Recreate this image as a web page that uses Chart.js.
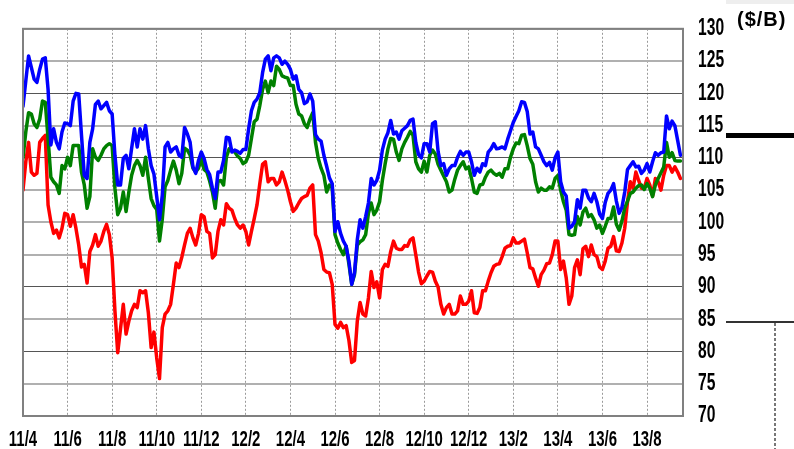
<!DOCTYPE html>
<html>
<head>
<meta charset="utf-8">
<script src="https://cdn.jsdelivr.net/npm/chart.js@4.4.1/dist/chart.umd.min.js"></script>
<style>
html,body{margin:0;padding:0;background:#fff;}
#wrap{width:794px;height:449px;}
</style>
</head>
<body>
<div id="wrap"><canvas id="c" width="794" height="449"></canvas></div>
<script>
// Month tick labels (every 2 months, starting 2011/4)
const monthLabels = ['11/4','11/6','11/8','11/10','11/12','12/2','12/4','12/6','12/8','12/10','12/12','13/2','13/4','13/6','13/8'];
// Sampling step of the series, in months from 2011/4
const stepMonths = 0.125;
const xMaxMonths = 29.615;
const unitLabel = '($/B)';

// Blue series ($/B)
const blueSeries = [
118,121.9,125.8,124,122.2,121.7,123.7,125.3,125.5,120.6,112,114.5,112.4,111.4,114,115.4,115.3,115,118.8,120,
119.9,113.5,107.3,106.8,112.4,114.5,118.3,118.8,117.6,118.1,118.6,117.3,116.8,110.4,105.8,105.8,109.9,110.4,108.3,111.5,
114.5,111.7,114.5,112.9,115,111.4,108.8,107.5,104,100.4,104.2,111.7,112.4,110.9,111.4,111.7,110.4,110.1,114.7,113.7,
112.4,108.6,107.6,109.6,110.9,109.9,108.2,107.4,105.3,103.7,107.8,107.8,109.6,113.2,113.1,110.9,111.2,111,110.7,111.3,
111.3,114.5,117.3,118.6,119.1,120.1,123.2,125.3,125.8,123.5,125.5,125.8,125.5,124.5,125,124.5,123.7,122.2,122.7,120.6,
120.1,118.4,118.7,119.9,118.8,113.6,112.9,112.6,110.4,108.7,106.9,106,98.6,100.1,98.3,97.1,96.3,94,90.4,92.2,
97.3,100.4,99.1,100.9,103,106.8,105.8,106.5,108.1,111.2,112.9,113.9,115.8,113.7,114,112.9,114.2,114.6,115,115.8,
116,112.4,110.5,110,112.2,112.2,110.9,115.3,115.6,111,108.8,109.1,107.3,108.3,108.8,108.8,110.1,111,110.4,110.9,
110.9,109.4,107.3,108.4,107.8,109.1,108.8,110.9,111.4,112.2,111.4,111.5,111.7,111.4,112.9,114.2,115.5,116.4,117.3,118.7,
118.6,117.2,113.7,114,111.7,111.4,110.4,109.4,108.8,109.3,108.1,110,110.9,106.3,104.7,104.1,99.1,99.4,100.1,103.5,
102.2,105,105,103.8,103.2,104.5,103.2,101.3,100.6,103.1,104.5,105,106,103.3,101.4,102.3,104.7,108.2,108.8,109.4,
108.6,108.7,107.6,108.1,109.1,107.8,109.4,110.8,110.4,110.8,110.9,116.5,114.5,115.7,115,112.7,110.4];

// Green series ($/B)
const greenSeries = [
110,114,117,116.8,115.3,114.7,116,118.8,118.6,113,107,106.3,105.8,104.5,108.8,108.3,110.1,108.8,111.9,111.9,
111.9,107.8,105.8,102.2,104,111.4,110.1,109.6,110.4,111.4,111.9,112.2,111.9,105.3,101.2,102.2,104.7,101.7,104.7,107.3,
108.8,109.6,108.8,107.3,110.1,106.8,103.7,102.6,102,97.1,100.5,105.5,106.5,108.1,109.5,108.1,106,107.6,111.5,111.2,
110.4,108.4,107.8,108.4,109.9,108.2,107.8,106.4,104.7,102.2,106.3,106.5,105.8,110.1,111.4,111.2,110.9,110.3,109.9,109.1,
109.4,110.4,113,115.6,116,118.1,120.6,121.9,120.1,121.9,121.2,124.2,123.7,122.7,122.5,122.4,121.2,121.2,118.3,116.8,
116.5,115.3,114.7,116,117,112.4,109.9,108.4,107.3,104.7,105.8,105.3,98.1,96.8,95.8,95,96.3,93.5,90.4,91.9,
96.5,97,97.3,98.1,101.4,103,101.2,101.9,103.2,106.5,109.1,111.4,113,112.9,110.9,109.6,111.4,112.4,113.2,114.1,
113.5,109.4,108.3,107.8,109.5,107.8,110.4,111.2,110.6,109,108.1,107.2,106.3,104.7,105,106.7,108.1,108.8,109.4,108.3,
108.6,106.8,104.7,104.5,105.8,105.9,107,107.8,108.1,107.6,107.3,107.6,107,108.3,108.3,110.1,111.4,112.3,112.2,113.5,
113.6,111.9,109.9,109,106.3,104.7,105.3,105,105,105.5,105.3,106.8,107.3,105,103.2,101.9,98.1,98,98.1,100.9,
99.6,101.6,102.2,100.9,101.2,100.4,99.1,99.6,98.3,99.4,100.6,100.6,102.4,99.7,98.8,100.2,102.2,103.3,104.5,104.7,
105.3,105.7,105.8,105.1,106,105.3,104,105.8,106.8,107.7,108.6,112.4,110.1,110.8,109.6,109.5,109.5];

// Red series ($/B)
const redSeries = [
105,109.4,112.4,107.8,107.3,107.6,112.4,113,113.5,102.7,100.1,98.3,98.8,97.6,99.1,101.4,101.2,99.4,101.2,99.1,
96.5,93.1,93.5,90.6,95.5,96.5,98.1,96.3,97.1,98.6,99.7,98.1,94.5,86.3,79.8,83.5,87.3,82.7,84.7,86.3,
87.3,86.8,89.4,89.1,89.4,86,80.6,83,79,75.8,83.7,85.8,86.3,87.3,90.4,93.7,93,94.6,96.5,98.3,
99.1,97.6,96.5,98.3,101.2,100.9,98.6,98.3,94.5,95,98.6,100.4,99.6,102.9,102.2,101.9,100.6,99.6,99.1,99.6,
98.6,96.5,98.6,100.6,102.7,106,109,109.4,106.3,106.8,106.8,105.8,106.3,107.8,106.5,105,103.2,101.7,102.2,103,
103.7,104,104.2,105.3,105.8,98.1,97.1,95.3,92.7,92.3,92.2,90.4,84.2,83.6,84.5,83.7,84,81.7,78.3,78.6,
84.7,87.6,85.8,85.5,88.3,92.4,89.9,90.8,88.3,92.7,93.5,93.2,95.5,97.1,96,95.8,95.8,96.4,96.3,97.3,
97.6,95,92.3,90.5,90.9,91.7,92.4,92.3,90.9,90,87.3,85.8,86.8,87.3,85.8,85.8,86.3,88.6,87.3,87.3,
87.8,89.4,86,85.9,86.8,89.4,89.4,90.9,92.2,93.2,93.5,93.6,94.7,96,96.3,96.4,97.6,96.8,96.8,97.1,
97.4,95.3,93,92.8,91.4,90.1,91.9,92.6,93.6,93.7,95,97.1,97.1,92.7,94,91.4,87.3,88.6,93,94.2,
91.9,95.9,96.3,94.7,96.5,95,94.7,93.1,92.7,94,96,96.3,97.8,95.6,95.5,96.8,99.1,103.2,106.3,105.3,
107.8,106.5,105.3,105.3,106.8,105.8,104.1,106.8,106.3,105,107.3,108.8,108.8,107.8,108.6,107.8,106.8];

// Y axis ticks
const yMin = 70, yMax = 130, yStep = 5;
const darkGridValues = [80, 90, 110, 120];

const toXY = arr => arr.map((v, i) => ({x: i * stepMonths, y: v}));
const FONT = '"Liberation Sans", Arial, sans-serif';
const LABEL_SQUEEZE = 0.68;

// Draw the library's own tick labels horizontally condensed (like the reference font)
const condensePlugin = {
  id: 'condense',
  afterLayout(chart) {
    Object.values(chart.scales).forEach(s => {
      if (s._condPatched) return;
      s._condPatched = true;
      const orig = s.drawLabels;
      s.drawLabels = function (area) {
        const ctx = this.ctx;
        const rot = ctx.rotate;
        ctx.rotate = function (a) { rot.call(this, a); this.scale(LABEL_SQUEEZE, 1); };
        try { orig.call(this, area); } finally { ctx.rotate = rot; }
      };
    });
  }
};

const decorPlugin = {
  id: 'decor',
  afterDraw(chart) {
    const ctx = chart.ctx;
    const a = chart.chartArea;
    ctx.save();
    ctx.strokeStyle = '#808080';
    ctx.lineWidth = 2;
    ctx.strokeRect(a.left, a.top, a.right - a.left, a.bottom - a.top);
    ctx.fillStyle = '#eeeeee';
    ctx.fillRect(726, 0, 68, 4);
    ctx.fillStyle = '#000';
    ctx.font = 'bold 20px "Liberation Sans", Arial, sans-serif';
    ctx.textBaseline = 'middle';
    ctx.textAlign = 'left';
    if ('letterSpacing' in ctx) ctx.letterSpacing = '1px';
    ctx.fillText(unitLabel, 737, 20);
    ctx.fillRect(726, 133, 68, 5);
    ctx.fillStyle = '#333';
    ctx.fillRect(726, 321, 68, 2);
    ctx.strokeStyle = '#777';
    ctx.lineWidth = 2;
    ctx.setLineDash([3, 2]);
    ctx.beginPath();
    ctx.moveTo(775, 323);
    ctx.lineTo(775, 449);
    ctx.stroke();
    ctx.restore();
  }
};

new Chart(document.getElementById('c'), {
  type: 'line',
  data: {
    datasets: [
      {label: 'blue', data: toXY(blueSeries), borderColor: '#0000ff', order: 1},
      {label: 'green', data: toXY(greenSeries), borderColor: '#008000', order: 2},
      {label: 'red', data: toXY(redSeries), borderColor: '#ff0000', order: 3}
    ]
  },
  options: {
    responsive: false,
    animation: false,
    devicePixelRatio: 1,
    layout: {padding: {left: 23, top: 26, right: 0, bottom: 0}},
    elements: {
      point: {radius: 0},
      line: {borderWidth: 3.5, tension: 0, borderJoinStyle: 'round', borderCapStyle: 'round'}
    },
    plugins: {legend: {display: false}, tooltip: {enabled: false}, title: {display: false}},
    scales: {
      x: {
        type: 'linear',
        min: 0,
        max: xMaxMonths,
        afterBuildTicks: s => { s.ticks = monthLabels.map((l, i) => ({value: i * 2})); },
        afterFit: s => { s.height = 33; s.paddingLeft = 0; s.paddingRight = 0; },
        ticks: {
          autoSkip: false, maxRotation: 0, minRotation: 0,
          color: '#000', padding: 11,
          font: {family: FONT, size: 22, weight: 'bold'},
          callback: v => monthLabels[Math.round(v / 2)] || ''
        },
        grid: {color: '#9a9a9a', lineWidth: 1, drawTicks: false},
        border: {display: false, dash: [2, 2]}
      },
      y: {
        position: 'right',
        min: yMin, max: yMax,
        afterFit: s => { s.width = 111; },
        ticks: {
          stepSize: yStep, color: '#000', padding: 15,
          font: {family: FONT, size: 23, weight: 'bold'}
        },
        grid: {
          drawTicks: false,
          color: c => darkGridValues.includes(c.tick && c.tick.value) ? '#555555' : '#b0b0b0',
          lineWidth: c => darkGridValues.includes(c.tick && c.tick.value) ? 1 : 2
        },
        border: {display: false}
      }
    }
  },
  plugins: [condensePlugin, decorPlugin]
});
</script>
</body>
</html>
